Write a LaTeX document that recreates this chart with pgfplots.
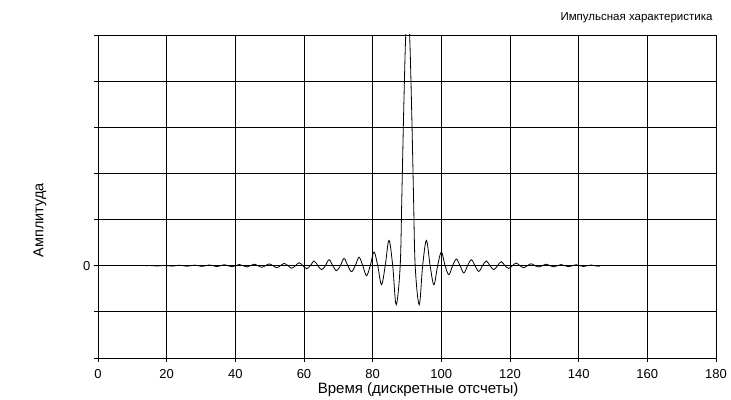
\documentclass[border=0pt]{standalone}
\usepackage{fontspec}
\setmainfont{Liberation Sans}
\usepackage{pgfplots}
\pgfplotsset{compat=1.18}
\begin{document}
\begin{tikzpicture}
\begin{axis}[
  scale only axis, width=618pt, height=323pt,
  xmin=0, xmax=180, ymin=-2, ymax=5,
  xtick={0,20,...,180}, ytick={-2,-1,0,1,2,3,4,5},
  yticklabels={{},{},0,{},{},{},{},{}},
  grid=major, major grid style={black, line width=0.8pt},
  axis line style={black, line width=0.8pt},
  tick style={black, line width=0.8pt}, tick align=outside, major tick length=4pt,
  tick pos=left,
  tick label style={font=\fontsize{13}{15}\selectfont},
  xticklabel style={yshift=-4pt},
  /pgf/number format/assume math mode=true,
  title={Импульсная характеристика},
  title style={at={(axis description cs:1,1.036)}, anchor=east, font=\fontsize{11.5}{13}\selectfont},
  xlabel={Время (дискретные отсчеты)},
  xlabel style={at={(axis description cs:0.518,-0.099)}, anchor=center, font=\fontsize{15}{17}\selectfont},
  ylabel={Амплитуда},
  ylabel style={at={(axis description cs:-0.094,0.427)}, anchor=center, font=\fontsize{14.5}{16}\selectfont},
]
\addplot[black, line width=0.8pt, smooth, tension=0.55] coordinates {
(13.90,0) (14.99,0.004) (16.08,0) (17.17,-0.007) (18.26,0) (19.35,0.007) (20.44,0) (21.53,-0.009) (22.62,0) (23.71,0.011) (24.80,0) (25.89,-0.011) (26.98,0) (28.07,0.013) (29.16,0) (30.25,-0.015) (31.34,0) (32.43,0.017) (33.52,0) (34.61,-0.020) (35.70,0) (36.79,0.022) (37.88,0) (38.97,-0.024) (40.06,0) (41.15,0.026) (42.24,0) (43.33,-0.028) (44.42,0) (45.51,0.033) (46.60,0) (47.69,-0.035) (48.78,0) (49.87,0.039) (50.96,0) (52.05,-0.043) (53.14,0) (54.23,0.050) (55.32,0) (56.41,-0.054) (57.50,0) (58.59,0.065) (59.68,0) (60.77,-0.065) (61.86,0) (62.95,0.102) (64.04,0) (65.13,-0.087) (66.22,0) (67.31,0.130) (68.40,0) (69.49,-0.108) (70.58,0) (71.67,0.158) (72.76,0) (73.85,-0.130) (74.94,0) (76.03,0.184) (77.12,0) (78.21,-0.217) (79.30,0) (80.39,0.297) (81.48,0) (82.57,-0.412) (83.66,0) (84.75,0.549) (85.84,0) (86.85,-0.846) (88.02,0) (88.5,1.51) (89.0,3.24) (89.6,4.94) (90.2,5.6) (90.8,4.94) (91.4,3.24) (91.9,1.51) (92.38,0) (93.55,-0.846) (94.56,0) (95.65,0.549) (96.74,0) (97.83,-0.412) (98.92,0) (100.01,0.297) (101.10,0) (102.19,-0.195) (103.28,0) (104.37,0.145) (105.46,0) (106.55,-0.158) (107.64,0) (108.73,0.130) (109.82,0) (110.91,-0.124) (112.00,0) (113.09,0.102) (114.18,0) (115.27,-0.087) (116.36,0) (117.45,0.087) (118.54,0) (119.63,-0.059) (120.72,0) (121.81,0.059) (122.90,0) (123.99,-0.043) (125.08,0) (126.17,0.043) (127.26,0) (128.35,-0.028) (129.44,0) (130.53,0.033) (131.62,0) (132.71,-0.026) (133.80,0) (134.89,0.026) (135.98,0) (137.07,-0.022) (138.16,0) (139.25,0.022) (140.34,0) (141.43,-0.017) (142.52,0) (143.61,0.015) (144.70,0) (145.79,-0.011) (146.3,0)
};
\coordinate (ll) at (rel axis cs:0,0);
\coordinate (ur) at (rel axis cs:1,1);
\end{axis}
\pgfresetboundingbox
\path[use as bounding box] ([shift={(-98pt,-42pt)}]ll) rectangle ([shift={(15pt,35pt)}]ur);
\end{tikzpicture}
\end{document}
